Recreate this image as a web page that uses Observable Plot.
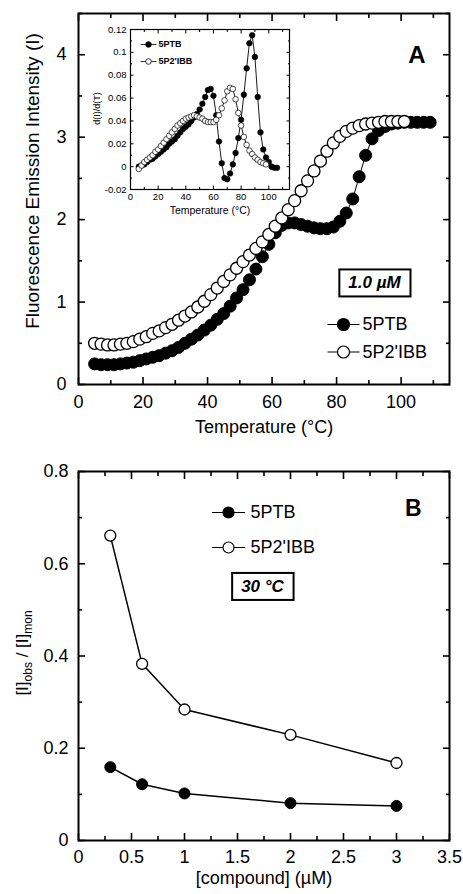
<!DOCTYPE html>
<html><head><meta charset="utf-8">
<script src="https://cdn.jsdelivr.net/npm/d3@7"></script>
<script src="https://cdn.jsdelivr.net/npm/@observablehq/plot@0.6"></script>
<style>
body{margin:0;background:#fff;}
#wrap{position:relative;width:463px;height:894px;font-family:"Liberation Sans",Arial,sans-serif;}
#a,#b,#inset{position:absolute;}
#a{left:0;top:0}
#b{left:0;top:440px}
#inset{left:80px;top:18px}
svg{overflow:visible}
</style></head><body>
<div id="wrap"><div id="a"></div><div id="b"></div><div id="inset"></div></div>
<script>
// ---------- data ----------
const seriesNames = ["5PTB", "5P2'IBB"];
// Panel A main: fluorescence vs temperature (1.0 µM)
const tempPTB = [5,7,9,11,13,15,17,19,21,23,25,27,29,31,33,35,37,39,41,43,45,47,49,51,53,55,57,59,61,63,65,67,69,71,73,75,77,79,81,83,85,87,89,91,93,95,97,99,101,103,105,107,109];
const intensityPTB = [0.25,0.24,0.24,0.24,0.25,0.26,0.27,0.29,0.31,0.33,0.35,0.38,0.41,0.45,0.50,0.55,0.60,0.66,0.72,0.79,0.86,0.95,1.05,1.15,1.27,1.40,1.55,1.70,1.84,1.93,1.96,1.96,1.94,1.92,1.90,1.89,1.89,1.91,1.98,2.08,2.25,2.52,2.78,2.98,3.08,3.13,3.16,3.17,3.18,3.18,3.18,3.18,3.18];
const tempPIBB = [5,7,9,11,13,15,17,19,21,23,25,27,29,31,33,35,37,39,41,43,45,47,49,51,53,55,57,59,61,63,65,67,69,71,73,75,77,79,81,83,85,87,89,91,93,95,97,99,101];
const intensityPIBB = [0.50,0.49,0.48,0.48,0.49,0.50,0.52,0.55,0.58,0.62,0.65,0.69,0.73,0.78,0.83,0.88,0.94,1.01,1.09,1.17,1.25,1.33,1.41,1.49,1.57,1.65,1.73,1.82,1.92,2.02,2.12,2.23,2.35,2.47,2.59,2.71,2.83,2.93,3.01,3.07,3.11,3.14,3.16,3.17,3.18,3.19,3.19,3.19,3.19];
// Panel A inset: derivative d(I)/d(T)
const insetTempPTB = [6,8,10,12,14,16,18,20,22,24,26,28,30,32,34,36,38,40,42,44,46,48,50,52,54,56,58,60,62,64,66,68,70,72,74,76,78,80,82,84,86,88,90,92,94,96,98,100,102,104,106];
const dIdT_PTB = [0.000,0.001,0.002,0.004,0.006,0.007,0.009,0.011,0.013,0.015,0.017,0.020,0.022,0.024,0.027,0.030,0.033,0.035,0.037,0.040,0.043,0.046,0.050,0.055,0.061,0.067,0.068,0.062,0.045,0.022,0.003,-0.010,-0.011,-0.006,0.002,0.012,0.025,0.041,0.063,0.086,0.108,0.115,0.096,0.061,0.030,0.015,0.008,0.004,0.000,-0.001,-0.001];
const insetTempPIBB = [6,8,10,12,14,16,18,20,22,24,26,28,30,32,34,36,38,40,42,44,46,48,50,52,54,56,58,60,62,64,66,68,70,72,74,76,78,80,82,84,86,88,90,92,94,96,98];
const dIdT_PIBB = [-0.002,0.001,0.004,0.006,0.008,0.010,0.013,0.015,0.018,0.021,0.024,0.027,0.030,0.033,0.036,0.038,0.040,0.042,0.043,0.044,0.045,0.044,0.043,0.042,0.040,0.039,0.039,0.039,0.041,0.045,0.051,0.058,0.066,0.069,0.068,0.059,0.047,0.036,0.026,0.019,0.014,0.011,0.008,0.006,0.004,0.003,0.002];
// Panel B: ratio vs concentration (30 °C)
const conc = [0.3, 0.6, 1, 2, 3];
const ratioPTB = [0.159, 0.122, 0.102, 0.081, 0.075];
const ratioPIBB = [0.661, 0.383, 0.284, 0.229, 0.168];
// ticks
const xMajorA = [0,20,40,60,80,100], xMinorA = [10,30,50,70,90,110];
const yMajorA = [0,1,2,3,4], yMinorA = [0.5,1.5,2.5,3.5,4.5];
const xMajorIn = [0,20,40,60,80,100], xMinorIn = [10,30,50,70,90,110];
const yMajorIn = [-0.02,0,0.02,0.04,0.06,0.08,0.1,0.12], yMinorIn = [-0.01,0.01,0.03,0.05,0.07,0.09,0.11];
const xMajorB = [0,0.5,1,1.5,2,2.5,3,3.5], xMinorB = [0.25,0.75,1.25,1.75,2.25,2.75,3.25];
const yMajorB = [0,0.2,0.4,0.6,0.8], yMinorB = [0.1,0.3,0.5,0.7];

const FONT = '"Liberation Sans", Arial, sans-serif';
const fmt = d => String(Math.round(d * 100) / 100);
const rows = (xs, ys) => xs.map((x, i) => ({x, y: ys[i]}));

function axes({xMajor, xMinor, yMajor, yMinor, major, minor, fontSize, xOff, yOff, sw}) {
  const common = {label: null, strokeWidth: sw};
  return [
    Plot.axisX(xMajor, {...common, anchor: "bottom", tickSize: -major, tickPadding: xOff + major, tickFormat: fmt, fontSize}),
    Plot.axisX(xMinor, {...common, anchor: "bottom", tickSize: -minor, text: null}),
    Plot.axisX(xMajor, {...common, anchor: "top", tickSize: -major, text: null}),
    Plot.axisX(xMinor, {...common, anchor: "top", tickSize: -minor, text: null}),
    Plot.axisY(yMajor, {...common, anchor: "left", tickSize: -major, tickPadding: yOff + major, tickFormat: fmt, fontSize}),
    Plot.axisY(yMinor, {...common, anchor: "left", tickSize: -minor, text: null}),
    Plot.axisY(yMajor, {...common, anchor: "right", tickSize: -major, text: null}),
    Plot.axisY(yMinor, {...common, anchor: "right", tickSize: -minor, text: null})
  ];
}
const lineSym = half => ({draw(ctx) { ctx.moveTo(-half, 0); ctx.lineTo(half, 0); }});
function legendRow(name, filled, dx, dy, {r, half, gap, fontSize, sw, weight}) {
  return [
    Plot.dot([name], {frameAnchor: "top-left", dx, dy, symbol: lineSym(half), r: 1, fill: "none", stroke: "black", strokeWidth: sw}),
    Plot.dot([name], {frameAnchor: "top-left", dx, dy, r, fill: filled ? "black" : "white", stroke: "black", strokeWidth: sw}),
    Plot.text([name], {frameAnchor: "top-left", dx: dx + gap, dy, text: d => d, textAnchor: "start", lineAnchor: "middle", fontSize, fontWeight: weight, fill: "black"})
  ];
}

// ---------- Panel A ----------
const ptbA = rows(tempPTB, intensityPTB), pibbA = rows(tempPIBB, intensityPIBB);
const chartA = Plot.plot({
  width: 463, height: 440, marginLeft: 78, marginRight: 14, marginTop: 13, marginBottom: 56,
  style: {fontFamily: FONT, color: "black", background: "transparent"},
  x: {domain: [0, 115]}, y: {domain: [0, 4.5]},
  marks: [
    ...axes({xMajor: xMajorA, xMinor: xMinorA, yMajor: yMajorA, yMinor: yMinorA, major: 7, minor: 4, fontSize: 18, xOff: 11, yOff: 12, sw: 1.6}),
    Plot.line(ptbA, {x: "x", y: "y", stroke: "black", strokeWidth: 1}),
    Plot.dot(ptbA, {x: "x", y: "y", r: 6, fill: "black", stroke: "black", strokeWidth: 1}),
    Plot.line(pibbA, {x: "x", y: "y", stroke: "black", strokeWidth: 1}),
    Plot.dot(pibbA, {x: "x", y: "y", r: 6, fill: "white", stroke: "black", strokeWidth: 1.3}),
    Plot.frame({stroke: "black", strokeWidth: 2}),
    Plot.text(["Temperature (°C)"], {frameAnchor: "bottom", dy: 43, text: d => d, textAnchor: "middle", lineAnchor: "middle", fontSize: 18, fill: "black"}),
    Plot.text(["Fluorescence Emission Intensity (I)"], {frameAnchor: "left", dx: -46, dy: -18, rotate: -90, text: d => d, textAnchor: "middle", lineAnchor: "middle", fontSize: 19, fill: "black"}),
    Plot.text(["A"], {frameAnchor: "top-right", dx: -24, dy: 42, text: d => d, textAnchor: "end", lineAnchor: "middle", fontSize: 24, fontWeight: "bold", fill: "black"}),
    Plot.text(["1.0 µM"], {className: "boxed", frameAnchor: "top-left", dx: 296, dy: 269.5, text: d => d, textAnchor: "middle", lineAnchor: "middle", fontSize: 17, fontWeight: "bold", fontStyle: "italic", fill: "black"}),
    ...legendRow(seriesNames[0], true, 265, 311, {r: 6, half: 16, gap: 19, fontSize: 18, sw: 1.2, weight: "normal"}),
    ...legendRow(seriesNames[1], false, 265, 338.5, {r: 6, half: 16, gap: 19, fontSize: 18, sw: 1.2, weight: "normal"})
  ]
});
document.getElementById("a").append(chartA);

// ---------- Inset ----------
const ptbIn = rows(insetTempPTB, dIdT_PTB), pibbIn = rows(insetTempPIBB, dIdT_PIBB);
const inset = Plot.plot({
  width: 215, height: 205, marginLeft: 50, marginRight: 6, marginTop: 11, marginBottom: 34,
  style: {fontFamily: FONT, color: "black", background: "transparent"},
  x: {domain: [0, 115]}, y: {domain: [-0.02, 0.12]},
  marks: [
    ...axes({xMajor: xMajorIn, xMinor: xMinorIn, yMajor: yMajorIn, yMinor: yMinorIn, major: 3.5, minor: 2, fontSize: 9.5, xOff: 4, yOff: 4, sw: 1}),
    Plot.line(ptbIn, {x: "x", y: "y", stroke: "black", strokeWidth: 0.9}),
    Plot.dot(ptbIn, {x: "x", y: "y", r: 2.8, fill: "black", stroke: "black", strokeWidth: 0.6}),
    Plot.line(pibbIn, {x: "x", y: "y", stroke: "black", strokeWidth: 0.9}),
    Plot.dot(pibbIn, {x: "x", y: "y", r: 2.8, fill: "white", stroke: "black", strokeWidth: 0.7}),
    Plot.frame({stroke: "black", strokeWidth: 1.2}),
    Plot.text(["Temperature (°C)"], {frameAnchor: "bottom", dy: 21.5, text: d => d, textAnchor: "middle", lineAnchor: "middle", fontSize: 10.5, fill: "black"}),
    Plot.text(["d(I)/d(T)"], {frameAnchor: "left", dx: -33, dy: -1, rotate: -90, text: d => d, textAnchor: "middle", lineAnchor: "middle", fontSize: 9, fill: "black"}),
    ...legendRow(seriesNames[0], true, 18, 15, {r: 2.8, half: 8, gap: 10, fontSize: 9, sw: 0.8, weight: "bold"}),
    ...legendRow(seriesNames[1], false, 18, 32, {r: 2.8, half: 8, gap: 10, fontSize: 9, sw: 0.8, weight: "bold"})
  ]
});
document.getElementById("inset").append(inset);

// ---------- Panel B ----------
const ptbB = rows(conc, ratioPTB), pibbB = rows(conc, ratioPIBB);
const chartB = Plot.plot({
  width: 463, height: 454, marginLeft: 78, marginRight: 14, marginTop: 31, marginBottom: 54,
  style: {fontFamily: FONT, color: "black", background: "transparent"},
  x: {domain: [0, 3.5]}, y: {domain: [0, 0.8]},
  marks: [
    ...axes({xMajor: xMajorB, xMinor: xMinorB, yMajor: yMajorB, yMinor: yMinorB, major: 7, minor: 4, fontSize: 18, xOff: 9.5, yOff: 10, sw: 1.6}),
    Plot.line(ptbB, {x: "x", y: "y", stroke: "black", strokeWidth: 1.5}),
    Plot.dot(ptbB, {x: "x", y: "y", r: 5.5, fill: "black", stroke: "black", strokeWidth: 1}),
    Plot.line(pibbB, {x: "x", y: "y", stroke: "black", strokeWidth: 1.5}),
    Plot.dot(pibbB, {x: "x", y: "y", r: 5.5, fill: "white", stroke: "black", strokeWidth: 1.3}),
    Plot.frame({stroke: "black", strokeWidth: 2}),
    Plot.text(["[compound] (µM)"], {frameAnchor: "bottom", dy: 38, text: d => d, textAnchor: "middle", lineAnchor: "middle", fontSize: 18, fill: "black"}),
    Plot.text(["[I]obs / [I]mon"], {className: "ylabB", frameAnchor: "left", dx: -56, dy: -3, rotate: -90, text: d => d, textAnchor: "middle", lineAnchor: "middle", fontSize: 17, fill: "black"}),
    Plot.text(["B"], {frameAnchor: "top-right", dx: -28, dy: 37, text: d => d, textAnchor: "end", lineAnchor: "middle", fontSize: 23, fontWeight: "bold", fill: "black"}),
    Plot.text(["30 °C"], {className: "boxed", frameAnchor: "top-left", dx: 184, dy: 115, text: d => d, textAnchor: "middle", lineAnchor: "middle", fontSize: 17, fontWeight: "bold", fontStyle: "italic", fill: "black"}),
    ...legendRow(seriesNames[0], true, 150, 41, {r: 5.5, half: 16.5, gap: 22, fontSize: 18, sw: 1.2, weight: "normal"}),
    ...legendRow(seriesNames[1], false, 150, 76, {r: 5.5, half: 16.5, gap: 22, fontSize: 18, sw: 1.2, weight: "normal"})
  ]
});
document.getElementById("b").append(chartB);

// ---------- post: boxes & subscripts ----------
for (const svg of [chartA, chartB]) {
  d3.select(svg).selectAll(".boxed text").each(function() {
    const b = this.getBBox();
    const cx = b.x + b.width / 2, cy = b.y + b.height / 2;
    const w = b.width + 18, h = 27;
    d3.select(this.parentNode).insert("rect", () => this)
      .attr("x", cx - w / 2).attr("y", cy - h / 2).attr("width", w).attr("height", h)
      .attr("transform", this.getAttribute("transform"))
      .attr("fill", "white").attr("stroke", "black").attr("stroke-width", 2);
  });
}
d3.select(chartB).selectAll(".ylabB text").each(function() {
  const t = d3.select(this);
  t.text(null);
  t.append("tspan").text("[I]");
  t.append("tspan").attr("dy", 4).attr("font-size", 12).text("obs");
  t.append("tspan").attr("dy", -4).text(" / [I]");
  t.append("tspan").attr("dy", 4).attr("font-size", 12).text("mon");
});
</script>
</body></html>
